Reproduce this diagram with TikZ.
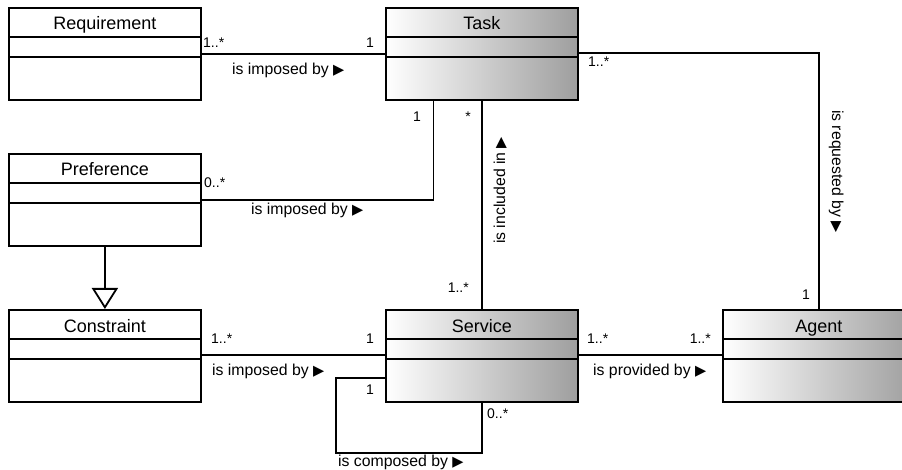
\documentclass[tikz,border=0pt]{standalone}
\usepackage{fontspec}
\setmainfont{Liberation Sans}
\newfontfamily\symfont{DejaVu Sans}
\usetikzlibrary{arrows.meta,calc}

\tikzset{
  classbox/.style={draw, line width=1.8pt, minimum width=192pt, minimum height=92pt,
    inner sep=0pt, anchor=north west, fill=white},
  shadedbox/.style={classbox, left color=white, right color=black!38},
  conn/.style={line width=1.8pt},
  cname/.style={font=\fontsize{18}{20}\selectfont, inner sep=0pt, anchor=base},
  mult/.style={font=\fontsize{14}{16}\selectfont, inner sep=0pt},
  rel/.style={font=\fontsize{15.8}{18}\selectfont, inner sep=0pt},
}
\newcommand\tri{{\symfont\fontsize{14.5}{14.5}\selectfont ▶}}

\newcommand\umlclass[5]{%
  \node[#2] (#1) at (#3,#4) {};
  \draw[conn] ([yshift=-30pt]#1.north west) -- ([yshift=-30pt]#1.north east);
  \draw[conn] ([yshift=-50pt]#1.north west) -- ([yshift=-50pt]#1.north east);
  \node[cname] (#1-title) at ([yshift=-23pt]#1.north) {#5};
}

\begin{document}
\begin{tikzpicture}[x=1pt, y=-1pt]
\useasboundingbox (0,0) rectangle (902,470);
\clip (0,0) rectangle (902,470);

% classes
\umlclass{Requirement}{classbox}{8}{7}{Requirement}
\umlclass{Task}{shadedbox}{385}{7}{Task}
\umlclass{Preference}{classbox}{8}{153}{Preference}
\umlclass{Constraint}{classbox}{8}{309}{Constraint}
\umlclass{Service}{shadedbox}{385}{309}{Service}
\umlclass{Agent}{shadedbox}{722}{309}{Agent}

% connectors
\draw[conn] ([yshift=-47pt]Requirement.north east) -- ([yshift=-47pt]Task.north west);
\draw[conn] ([yshift=-46pt]Task.north east) -| (Agent.north);
\draw[conn] ([yshift=-47pt]Preference.north east) -| ($(Task.south west)!0.25!(Task.south east)$);
\draw[conn] (Task.south) -- (Service.north);
\draw[conn] ([yshift=-46pt]Constraint.north east) -- ([yshift=-46pt]Service.north west);
\draw[conn] ([yshift=-46pt]Service.north east) -- ([yshift=-46pt]Agent.north west);
\draw[conn] ([yshift=-69pt]Service.north west) -| ([xshift=-146pt,yshift=-50pt]Service.south) -| (Service.south);
\draw[conn, -{Triangle[open, length=21pt, width=26pt, fill=white]}] (Preference.south) -- (Constraint.north);

% multiplicities
\node[mult, anchor=base west] (m1) at (203,48) {1..*};
\node[mult, anchor=base east] (m2) at (374,48) {1};
\node[mult, anchor=base west] (m3) at (588,67) {1..*};
\node[mult, anchor=base east] (m4) at (421,122) {1};
\node[mult, anchor=base east] (m5) at (471,122) {*};
\node[mult, anchor=base east] (m6) at (469,293) {1..*};
\node[mult, anchor=base east] (m7) at (810,299) {1};
\node[mult, anchor=base west] (m8) at (204,188) {0..*};
\node[mult, anchor=base west] (m9) at (211,343) {1..*};
\node[mult, anchor=base east] (m10) at (374,343) {1};
\node[mult, anchor=base east] (m11) at (374,394) {1};
\node[mult, anchor=base west] (m12) at (487,418) {0..*};
\node[mult, anchor=base west] (m13) at (587,343) {1..*};
\node[mult, anchor=base east] (m14) at (711,343) {1..*};

% association names
\node[rel, anchor=base west] (r1) at (232,75) {is imposed by \tri};
\node[rel, anchor=base west] (r2) at (251,215) {is imposed by \tri};
\node[rel, anchor=base west] (r3) at (212,375) {is imposed by \tri};
\node[rel, anchor=base west] (r4) at (593,375) {is provided by \tri};
\node[rel, anchor=base west] (r5) at (338,466) {is composed by \tri};
\node[rel, anchor=base west, rotate=90] (r6) at (505,244) {is included in \tri};
\node[rel, anchor=base west, rotate=-90] (r7) at (832,110) {is requested by \tri};
\end{tikzpicture}
\end{document}
